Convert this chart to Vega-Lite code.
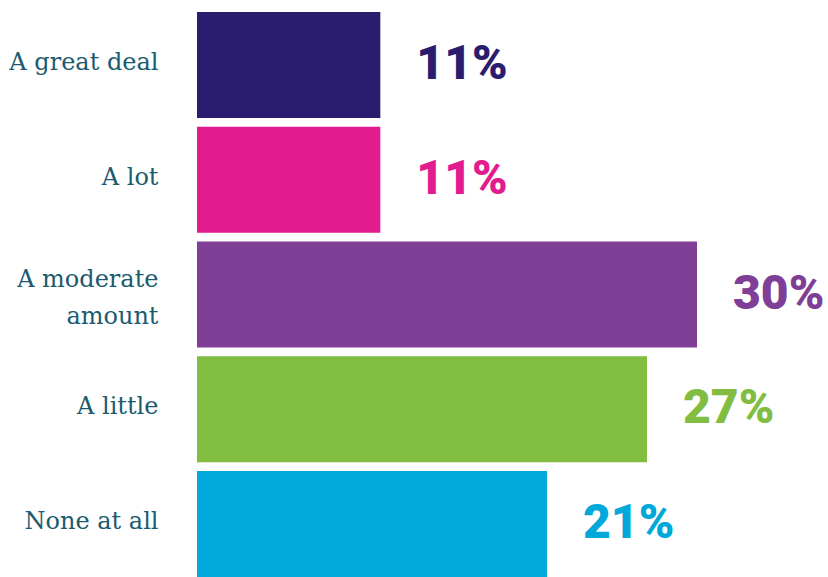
{
  "$schema": "https://vega.github.io/schema/vega-lite/v6.json",
  "autosize": {"type": "none"},
  "padding": {"left": 197, "top": 12, "right": 0, "bottom": 0},
  "width": 631,
  "height": 565,
  "background": "white",
  "config": {"view": {"stroke": null}},
  "data": {
    "values": [
      {"cat": "A great deal", "pct": 0.11, "color": "#2a1c6e"},
      {"cat": "A lot", "pct": 0.11, "color": "#e21b8e"},
      {"cat": "A moderate|amount", "pct": 0.30, "color": "#7f3f97"},
      {"cat": "A little", "pct": 0.27, "color": "#80bd41"},
      {"cat": "None at all", "pct": 0.21, "color": "#00a9d9"}
    ]
  },
  "encoding": {
    "y": {
      "field": "cat",
      "type": "nominal",
      "sort": null,
      "scale": {"paddingInner": 0.076, "paddingOuter": 0},
      "axis": {
        "title": null,
        "domain": false,
        "ticks": false,
        "labelExpr": "split(datum.label, '|')",
        "labelFont": "DejaVu Serif",
        "labelFontSize": 24,
        "labelColor": "#1b5b70",
        "labelPadding": 39,
        "labelLineHeight": 37,
        "labelLimit": 300,
        "labelOffset": {"condition": {"test": "datum.value == 'A moderate|amount'", "value": -15}, "value": -2}
      }
    },
    "x": {
      "field": "pct",
      "type": "quantitative",
      "scale": {"domain": [0, 0.3786], "nice": false, "zero": true},
      "axis": null
    },
    "color": {"field": "color", "type": "nominal", "scale": null, "legend": null}
  },
  "layer": [
    {"mark": {"type": "bar"}},
    {
      "mark": {"type": "text", "align": "left", "baseline": "middle", "dx": 36, "dy": 0, "font": "Roboto", "fontWeight": 900, "fontSize": 48},
      "encoding": {"text": {"field": "pct", "type": "quantitative", "format": ".0%"}}
    }
  ]
}
